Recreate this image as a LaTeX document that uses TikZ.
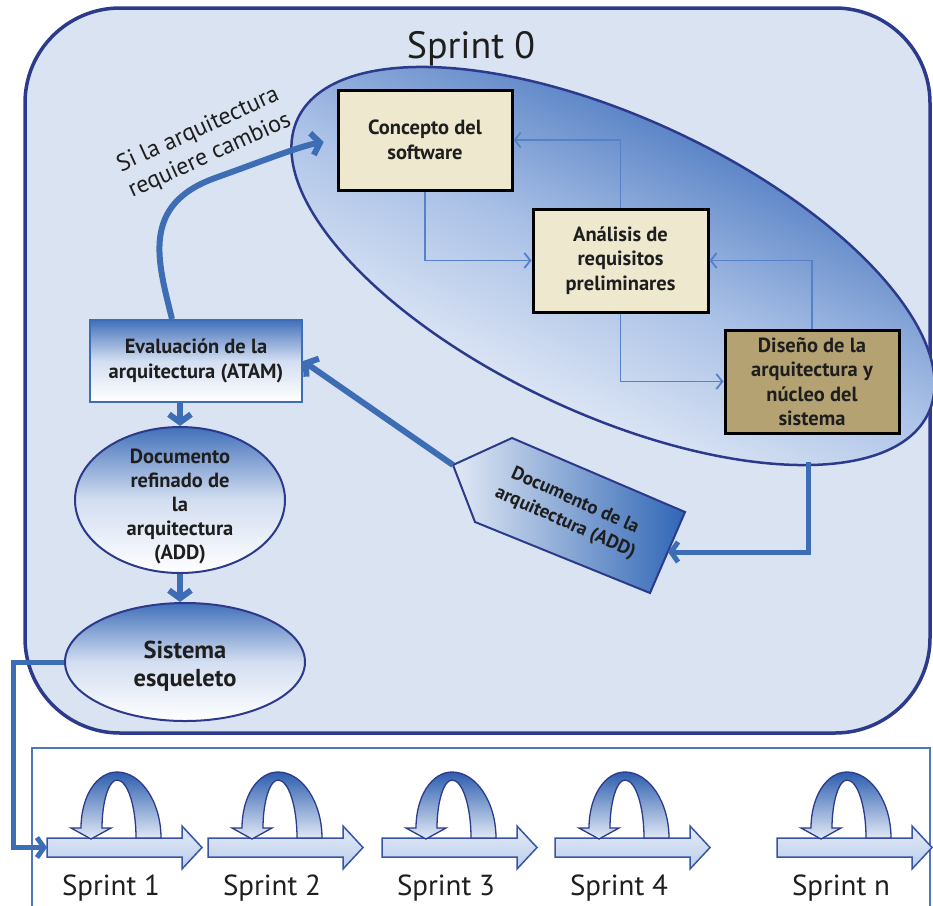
\documentclass[tikz,border=0pt]{standalone}
\usepackage{fontspec}
\setmainfont{PT Sans}
\usetikzlibrary{arrows.meta,shapes.geometric,calc}

\definecolor{navy}{HTML}{2C3A8C}
\definecolor{outerfill}{HTML}{DAE3F1}
\definecolor{panelblue}{HTML}{4E78BA}
\definecolor{linkblue}{HTML}{3D6DB5}
\definecolor{thinblue}{HTML}{5581C6}
\definecolor{cream}{HTML}{EEE8CF}
\definecolor{tan}{HTML}{B4A273}
\definecolor{ovD}{HTML}{245AB0}
\definecolor{ovM}{HTML}{A9C0E6}
\definecolor{docblue}{HTML}{4270BA}
\definecolor{docmid}{HTML}{D3DEF1}
\definecolor{tagL}{HTML}{E2E9F5}
\definecolor{tagR}{HTML}{2F66B5}
\definecolor{inkc}{HTML}{1E1E1E}
\definecolor{sprTop}{HTML}{E4EBF7}
\definecolor{sprBot}{HTML}{BBCDEA}
\definecolor{sprEdge}{HTML}{3555A6}
\definecolor{loopTop}{HTML}{2D5EAE}
\definecolor{loopBot}{HTML}{E2EAF6}

\newcommand*\bxfont{\bfseries\fontsize{20.5}{24.5}\selectfont}

\begin{document}
\begin{tikzpicture}[x=1pt,y=-1pt,
  every node/.style={text=inkc},
  procbox/.style={draw=black, line width=3pt, fill=cream, align=center,
    font=\bxfont, inner sep=0pt},
  evalbox/.style={draw=linkblue, line width=2pt, top color=docblue,
    bottom color=white, middle color=docmid, align=center, font=\bxfont},
  docoval/.style={ellipse, draw=navy, line width=2pt, top color=docblue,
    bottom color=white, middle color=docmid, inner sep=0pt},
  ovaltext/.style={align=center, font=\bxfont},
  flowthin/.style={draw=thinblue, line width=1.8pt,
    -{Straight Barb[length=6pt,width=15pt]}},
  flowthick/.style={draw=linkblue, line width=6pt,
    -{Straight Barb[length=8pt,width=22pt]}},
  flowmid/.style={draw=linkblue, line width=5pt,
    -{Straight Barb[length=7pt,width=20pt]}},
  sprintarrow/.style={draw=sprEdge, line width=1.5pt, top color=sprTop,
    bottom color=sprBot},
  loopband/.style={draw=navy, line width=1.3pt, top color=loopTop,
    bottom color=loopBot},
  sprintlabel/.style={anchor=base, font=\fontsize{29}{32}\selectfont}
]
\useasboundingbox (0,0) rectangle (933,905);
\clip (0,0) rectangle (933,905);

% Sprint 0 container
\draw[navy, line width=3.5pt, fill=outerfill, rounded corners=95pt]
  (25,8) rectangle (930,733);
\node[anchor=base, font=\fontsize{38}{40}\selectfont] (title) at (471,58) {Sprint 0};

% later sprints panel
\draw[panelblue, line width=2pt, fill=white] (32,748) rectangle (930,930);

% large oval holding the first three activities: white lower side, blue upper side
\draw[navy, line width=2.5pt, rotate around={-25:(613,266)},
  top color=ovD, bottom color=white, middle color=ovM, shading angle=-25]
  (613,266) ellipse [x radius=348, y radius=148];

\node[procbox, minimum width=174pt, minimum height=100pt] (concepto)
  at (425,140) {Concepto del\\software};
\node[procbox, minimum width=175pt, minimum height=103pt] (analisis)
  at (620.5,260.5) {Análisis de\\requisitos\\preliminares};
\node[procbox, fill=tan, minimum width=174pt, minimum height=103pt] (diseno)
  at (812,381.5) {Diseño de la\\arquitectura y\\núcleo del\\sistema};

\draw[flowthin] (concepto.south) |- (analisis.west);
\draw[flowthin] (analisis.north) |- (concepto.east);
\draw[flowthin] (analisis.south) |- (diseno.west);
\draw[flowthin] (diseno.north) |- (analisis.east);

% evaluation and refined documents
\node[evalbox, minimum width=212pt, minimum height=82pt, inner sep=0pt] (eval)
  at (196,361) {Evaluación de la\\arquitectura (ATAM)};
\node[docoval, minimum width=210pt, minimum height=146pt] (docref) at (180,500) {};
\node[ovaltext, font=\bfseries\fontsize{20.5}{24}\selectfont] (docreftext) at (180,506)
  {Documento\\refinado de\\la\\arquitectura\\(ADD)};
\node[docoval, minimum width=240pt, minimum height=118pt] (sistema) at (185,662) {};
\node[ovaltext, font=\bfseries\fontsize{24.5}{28}\selectfont] (sistematext)
  at (185,666) {Sistema\\esqueleto};

% architecture document tag
\coordinate (tagP) at (453,465);
\coordinate (tagT) at (512,438);
\coordinate (tagR1) at (685,512);
\coordinate (tagR2) at (650,593);
\coordinate (tagB) at (475,522);
\coordinate (tagin) at (668,552);
\draw[navy, line width=2pt, left color=tagL, right color=tagR]
  (tagP) -- (tagT) -- (tagR1) -- (tagR2) -- (tagB) -- cycle;
\node[rotate=-24, align=center, font=\bfseries\fontsize{19}{24}\selectfont]
  (tagtext) at (570,512) {Documento de la\\arquitectura (ADD)};

% thick connectors
\coordinate (evalout) at ($(eval.north)+(-24,0)$);
\draw[flowthick, shorten >=13pt] (evalout)
  .. controls (158,262) and (140,205) .. (215,178)
  .. controls (260,162) and (300,146) .. (concepto.west);
\node[rotate=24.5, align=center, font=\fontsize{24}{28}\selectfont] (cambios)
  at (204,143) {Si la arquitectura\\requiere cambios};

\draw[flowthick] (docref.north |- eval.south) -- (docref.north);
\draw[flowthick] (docref.south) -- (docref.south |- sistema.north);
\draw[flowthick] (tagP) -- (eval.east);

\coordinate (ovalbottom) at (808,462);
\draw[flowmid] (ovalbottom) |- (tagin);

% sprint sequence
\foreach \L/\n [count=\i] in {47/1, 208/2, 382/3, 555/4, 777/n} {
  \pgfmathsetmacro\cx{\L+70}
  \draw[sprintarrow] (\L,838) -- (\L+135,838) -- (\L+135,826)
    -- (\L+155,847.5) -- (\L+135,869) -- (\L+135,857) -- (\L,857) -- cycle;
  \draw[loopband] (\cx+19,838) .. controls (\cx+19,806) and (\cx+10.5,780) .. (\cx,780)
    .. controls (\cx-8.3,780) and (\cx-15,802) .. (\cx-15,828)
    -- (\cx-6,828) -- (\cx-26,839) -- (\cx-46,828) -- (\cx-36,828)
    .. controls (\cx-36,796) and (\cx-20,772) .. (\cx,772)
    .. controls (\cx+24,772) and (\cx+44,802) .. (\cx+44,838) -- cycle;
  \node[sprintlabel] (sprintlbl\i) at (\L+64,895) {Sprint \n};
  \coordinate (sprintin\i) at (\L,847.5);
}

\draw[flowmid] (sistema.west) -- ++(-51,0) |- (sprintin1);
\end{tikzpicture}
\end{document}
